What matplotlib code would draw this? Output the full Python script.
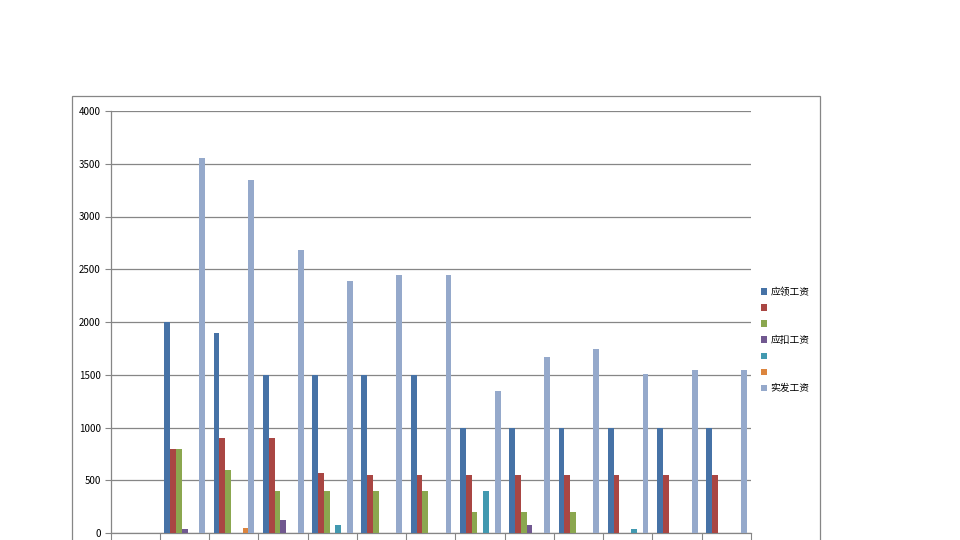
import matplotlib
matplotlib.use("Agg")
import matplotlib.pyplot as plt
from matplotlib.patches import Rectangle
from matplotlib.ticker import MultipleLocator, FixedLocator, NullFormatter
import numpy as np

plt.rcParams['font.family'] = ['Noto Sans CJK SC', 'DejaVu Sans']

categories = [str(i) for i in range(1, 14)]
series_labels = ['应领工资', '', '', '应扣工资', '', '', '实发工资']
s1 = [0, 2000, 1900, 1500, 1500, 1500, 1500, 1000, 1000, 1000, 1000, 1000, 1000]
s2 = [0, 800, 900, 900, 570, 550, 550, 550, 550, 550, 550, 550, 550]
s3 = [0, 800, 600, 400, 400, 400, 400, 200, 200, 200, 0, 0, 0]
s4 = [0, 40, 0, 120, 0, 0, 0, 0, 75, 0, 0, 0, 0]
s5 = [0, 0, 0, 0, 75, 0, 0, 400, 0, 0, 40, 0, 0]
s6 = [0, 0, 50, 0, 0, 0, 0, 0, 0, 0, 0, 0, 0]
s7 = [0, 3550, 3350, 2680, 2390, 2445, 2445, 1345, 1670, 1745, 1510, 1545, 1545]
series = [s1, s2, s3, s4, s5, s6, s7]
colors = ['#4672A6', '#A94643', '#8BA74F', '#715890', '#4299B0', '#DC853E', '#95A9CB']

W, H = 960, 540
fig = plt.figure(figsize=(9.6, 5.4), dpi=100)
fig.patch.set_facecolor('white')

# outer chart border
fig.patches.append(Rectangle((72 / W, -0.05), (820 - 72) / W, (540 - 96) / H + 0.05,
                             transform=fig.transFigure, fill=False,
                             edgecolor='#868686', lw=0.9))

ax = fig.add_axes([110.5 / W, (540 - 533) / H, (751 - 110.5) / W, (533 - 111) / H])
n = len(categories)
x = np.arange(n)
w = 1 / 8.5
handles = []
for j, (vals, c) in enumerate(zip(series, colors)):
    b = ax.bar(x - 0.5 + 0.8 * w + j * w, vals, width=w, align='edge', color=c,
               linewidth=0, zorder=3)
    handles.append(b)

ax.set_xlim(-0.5, n - 0.5)
ax.set_ylim(0, 4000)
ax.yaxis.set_major_locator(MultipleLocator(500))
ax.grid(axis='y', color='#868686', lw=0.9, zorder=0)
ax.set_axisbelow(True)
for s in ['top', 'right']:
    ax.spines[s].set_visible(False)
for s in ['left', 'bottom']:
    ax.spines[s].set_color('#868686')
    ax.spines[s].set_linewidth(0.9)
ax.tick_params(axis='y', labelsize=7, length=4, color='#868686', pad=3, labelcolor='black')
ax.xaxis.set_major_locator(FixedLocator(np.arange(-0.5, n, 1.0)))
ax.xaxis.set_major_formatter(NullFormatter())
ax.tick_params(axis='x', length=6, color='#868686')

leg = fig.legend(handles, series_labels, loc='center left',
                 bbox_to_anchor=(756 / W, (540 - 340) / H), frameon=False,
                 fontsize=7, handlelength=0.6, handleheight=0.6,
                 handletextpad=0.4, labelspacing=0.62, borderpad=0)

fig.savefig('out.png', dpi=100)
